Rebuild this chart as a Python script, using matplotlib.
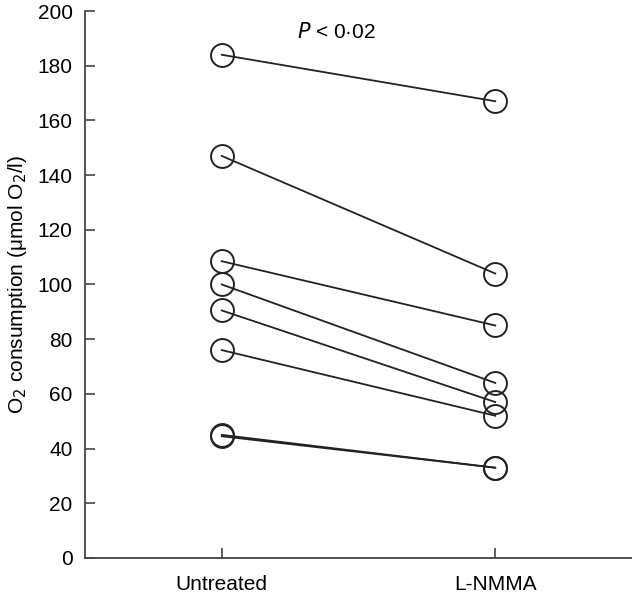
import matplotlib.pyplot as plt
import numpy as np

plt.rcParams['font.family'] = ['Liberation Sans', 'DejaVu Sans']

groups = ['Untreated', 'L-NMMA']
untreated = [184, 147, 108.5, 100, 90.5, 76, 45, 44.5]
lnmma = [167, 104, 85, 64, 57, 52, 33, 33]

fig = plt.figure(figsize=(6.32, 5.98), dpi=100)
ax = fig.add_axes([0.1345, 0.067, 0.8655, 0.9146])

x = np.arange(len(groups))
for a, b in zip(untreated, lnmma):
    ax.plot(x, [a, b], color='#222222', linewidth=1.3, marker='o',
            markersize=16.5, markerfacecolor='none', markeredgecolor='#222222',
            markeredgewidth=1.4)

ax.set_xlim(-0.5, 1.5)
ax.set_ylim(0, 200)
ax.set_yticks(np.arange(0, 201, 20))
ax.set_xticks(x)
ax.set_xticklabels(groups)

for s in ['top', 'right']:
    ax.spines[s].set_visible(False)
for s in ['left', 'bottom']:
    ax.spines[s].set_linewidth(1.3)
    ax.spines[s].set_color('#444444')

ax.tick_params(direction='in', length=7, width=1.2, color='#444444',
               labelsize=15, pad=9)
ax.tick_params(axis='x', pad=12)

ax.set_ylabel('O$_2$ consumption (μmol O$_2$/l)', fontsize=15, labelpad=6)
ax.text(0.42, 192.5, '$P$ < 0·02', fontsize=15, ha='center', va='center')

fig.savefig('out.png', dpi=100)
